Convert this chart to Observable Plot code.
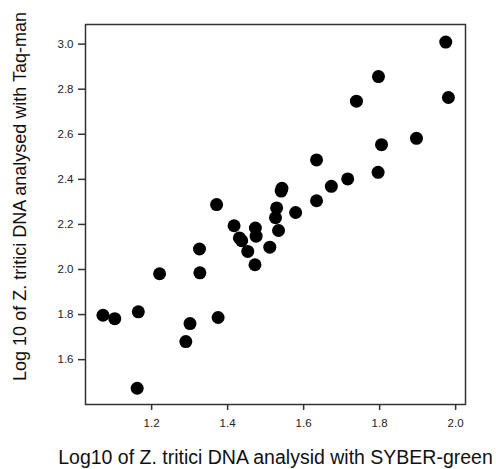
<!DOCTYPE html>
<html>
<head>
<meta charset="utf-8">
<script src="https://cdn.jsdelivr.net/npm/d3@7"></script>
<script src="https://cdn.jsdelivr.net/npm/@observablehq/plot@0.6"></script>
<style>
  html, body { margin: 0; padding: 0; background: #fff; }
  svg { display: block; }
</style>
</head>
<body>
<div id="chart"></div>
<script>
const sybr = [1.974, 1.797, 1.739, 1.981, 1.897, 1.805, 1.634, 1.796, 1.716, 1.673, 1.634, 1.543, 1.541, 1.579, 1.371, 1.529, 1.526, 1.534, 1.417, 1.473, 1.475, 1.431, 1.437, 1.453, 1.511, 1.472, 1.326, 1.327, 1.221, 1.072, 1.103, 1.165, 1.301, 1.290, 1.375, 1.162];
const taqman = [3.009, 2.856, 2.747, 2.763, 2.582, 2.554, 2.486, 2.431, 2.402, 2.369, 2.305, 2.360, 2.348, 2.253, 2.288, 2.273, 2.230, 2.173, 2.194, 2.184, 2.148, 2.140, 2.128, 2.080, 2.099, 2.021, 2.091, 1.985, 1.981, 1.797, 1.782, 1.812, 1.760, 1.680, 1.787, 1.473];
const xTicks = [1.2, 1.4, 1.6, 1.8, 2.0];
const yTicks = [1.6, 1.8, 2.0, 2.2, 2.4, 2.6, 2.8, 3.0];
const xTitle = "Log10 of Z. tritici DNA analysid with SYBER-green";
const yTitle = "Log 10 of Z. tritici DNA analysed with Taq-man";

const data = sybr.map((x, i) => ({x, y: taqman[i]}));

const chart = Plot.plot({
  width: 496,
  height: 469,
  marginLeft: 85,
  marginRight: 31,
  marginTop: 24,
  marginBottom: 65,
  style: {fontFamily: "'Liberation Sans', Arial, sans-serif", color: "#222", background: "#fff"},
  x: {domain: [1.026, 2.026]},
  y: {domain: [1.401, 3.087]},
  marks: [
    Plot.frame({stroke: "#333", strokeWidth: 1.5}),
    Plot.axisX({ticks: xTicks, tickFormat: d3.format(".1f"), tickSize: 6, tickPadding: 8, label: null, fontSize: 11.5, stroke: "#333", strokeWidth: 1.5}),
    Plot.axisY({ticks: yTicks, tickFormat: d3.format(".1f"), tickSize: 7, tickPadding: 5, label: null, fontSize: 11.5, stroke: "#333", strokeWidth: 1.5}),
    Plot.dot(data, {x: "x", y: "y", r: 6.5, fill: "#000", stroke: "none"}),
    Plot.text([xTitle], {text: d => d, frameAnchor: "bottom", textAnchor: "middle", dy: 59, fontSize: 19.5, fill: "#111", lineAnchor: "bottom"}),
    Plot.text([yTitle], {text: d => d, frameAnchor: "left", textAnchor: "middle", dx: -72, dy: -18, rotate: -90, fontSize: 18, fill: "#111", lineAnchor: "top"})
  ]
});
document.getElementById("chart").appendChild(chart);
</script>
</body>
</html>
